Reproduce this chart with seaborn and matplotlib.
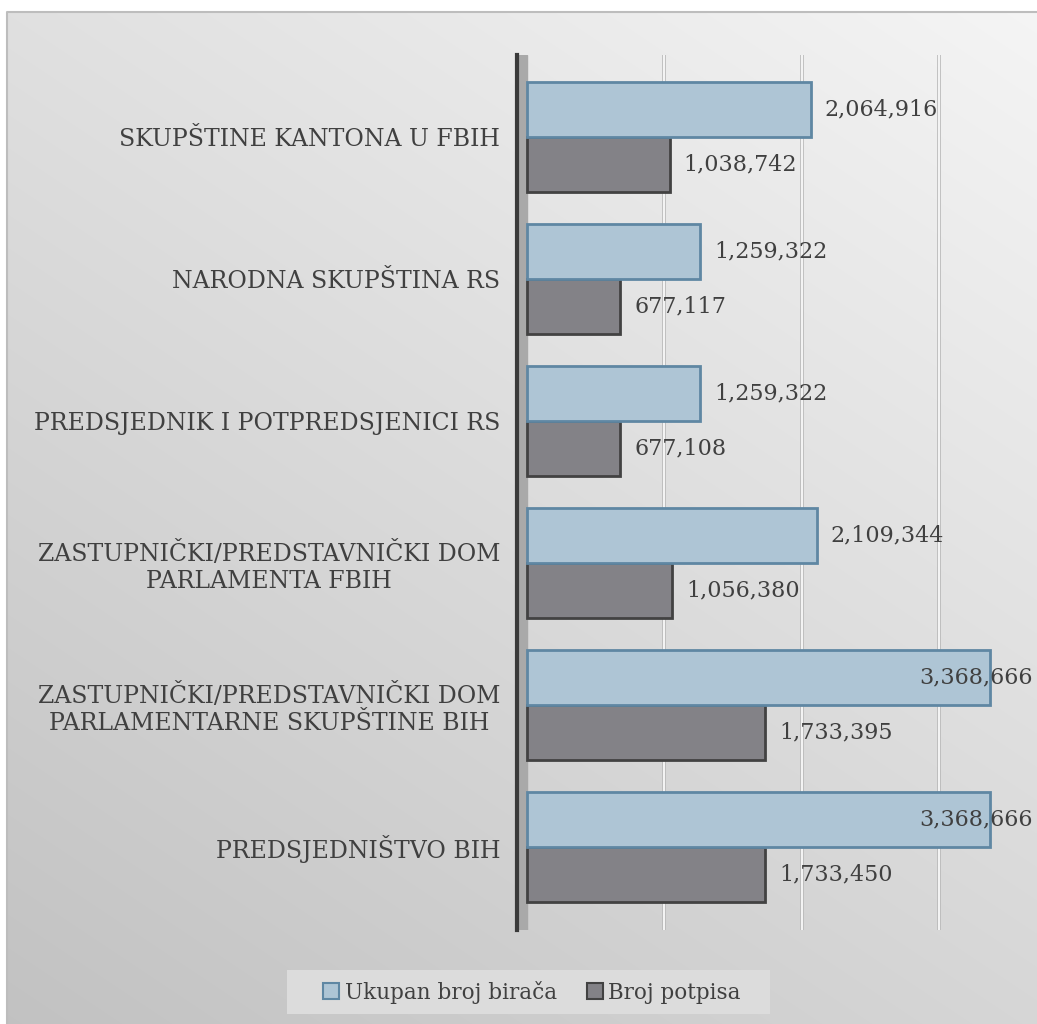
import numpy as np
import pandas as pd
import matplotlib
matplotlib.use("Agg")
import matplotlib.pyplot as plt
import matplotlib.patheffects as pe
from matplotlib.patches import Patch, Rectangle
import matplotlib.transforms as mtransforms
import seaborn as sns

# podaci
categories = [
    "SKUPŠTINE KANTONA U FBIH",
    "NARODNA SKUPŠTINA RS",
    "PREDSJEDNIK I POTPREDSJENICI RS",
    "ZASTUPNIČKI/PREDSTAVNIČKI DOM\nPARLAMENTA FBIH",
    "ZASTUPNIČKI/PREDSTAVNIČKI DOM\nPARLAMENTARNE SKUPŠTINE BIH",
    "PREDSJEDNIŠTVO BIH",
]
ukupan_biraca = [2064916, 1259322, 1259322, 2109344, 3368666, 3368666]
broj_potpisa = [1038742, 677117, 677108, 1056380, 1733395, 1733450]
series_names = ["Ukupan broj birača", "Broj potpisa"]
grid_values = [1000000, 2000000, 3000000]

blue_face, blue_edge = "#aec5d5", "#5f87a3"
grey_face, grey_edge = "#838287", "#424242"
text_col = "#404040"

df = pd.DataFrame({
    "kategorija": categories * 2,
    "vrijednost": ukupan_biraca + broj_potpisa,
    "serija": [series_names[0]] * len(categories) + [series_names[1]] * len(categories),
})

sns.set_style("white")
plt.rcParams["font.family"] = ["DejaVu Serif"]

W, H = 1037, 1024
fig = plt.figure(figsize=(W / 100, H / 100), dpi=100)

# pozadina s gradijentom
bg = fig.add_axes([0, 0, 1, 1], zorder=0)
yy, xx = np.mgrid[0:H, 0:W]
val = 245 - 0.03 * yy - 0.02 * (W - xx)
img = np.dstack([val, val, val]) / 255.0
img[:12, :, :] = 1.0
img[:, :7, :] = 1.0
bg.imshow(img, extent=(0, W, H, 0), aspect="auto", interpolation="bilinear")
bg.plot([7, 7, W], [H, 12, 12], color="#bdbdbd", lw=1.5)
# okvir legende
bg.add_patch(Rectangle((287, 970), 483, 44, facecolor="#dcdcdc", edgecolor="none"))
bg.set_xlim(0, W)
bg.set_ylim(H, 0)
bg.axis("off")

# glavni graf
ax = fig.add_axes([517 / W, 1 - 930 / H, (1008 - 517) / W, (930 - 55) / H], zorder=1)
ax.patch.set_alpha(0)
xmin, xmax = -72727, 3500000
ytop, ybot = -0.577, len(categories) - 1 + 0.585

ax.axvspan(xmin, 0, color="#a9a9a9", zorder=0)
for g in grid_values:
    ax.axvline(g, color="white", lw=1.2, zorder=0.5,
               path_effects=[pe.Stroke(linewidth=2.6, foreground="#b8b8b8"), pe.Normal()])

sns.barplot(data=df, y="kategorija", x="vrijednost", hue="serija", orient="h",
            palette=[blue_face, grey_face], width=0.775, ax=ax, legend=False,
            saturation=1, zorder=2)

edges = [blue_edge, grey_edge]
for cont, ec in zip(ax.containers, edges):
    for p in cont.patches:
        p.set_edgecolor(ec)
        p.set_linewidth(2)
        p.set_zorder(2 + (ec == blue_edge))

# oznake vrijednosti
blend = mtransforms.blended_transform_factory(ax.transAxes, ax.transData)
for cont in ax.containers:
    for p in cont.patches:
        v = p.get_width()
        yc = p.get_y() + p.get_height() / 2
        lab = f"{int(round(v)):,}"
        if v > 0.85 * xmax:
            ax.annotate(lab, xy=(1, yc), xycoords=blend, xytext=(25, 0),
                        textcoords="offset pixels", ha="right", va="center",
                        fontsize=16, color=text_col, zorder=5, annotation_clip=False)
        else:
            ax.annotate(lab, xy=(v, yc), xytext=(14, 0), textcoords="offset pixels",
                        ha="left", va="center", fontsize=16, color=text_col, zorder=5)

ax.set_xlim(xmin, xmax)
ax.set_ylim(ybot, ytop)
ax.set_xlabel("")
ax.set_ylabel("")
ax.set_xticks([])
ax.set_yticks(np.linspace(ytop, ybot, len(categories) + 1), minor=True)
ax.tick_params(axis="y", which="major", length=0, pad=12, labelsize=17, labelcolor=text_col)
ax.tick_params(axis="y", which="minor", length=11, width=3, color="#3a3a3a", direction="out")
for t in ax.get_yticklabels():
    t.set_multialignment("center")
for s in ["top", "right", "bottom"]:
    ax.spines[s].set_visible(False)
ax.spines["left"].set_color("#3a3a3a")
ax.spines["left"].set_linewidth(3)

# legenda
handles = [Patch(facecolor=blue_face, edgecolor=blue_edge, linewidth=1.5),
           Patch(facecolor=grey_face, edgecolor=grey_edge, linewidth=1.5)]
leg = fig.legend(handles, series_names, ncol=2, loc="center",
                 bbox_to_anchor=(532 / W, 1 - 992 / H), frameon=False,
                 handlelength=0.75, handleheight=0.75, handletextpad=0.25,
                 columnspacing=1.4, borderpad=0.45, fontsize=15.5)
for t in leg.get_texts():
    t.set_color(text_col)

fig.savefig("out.png", dpi=100)
